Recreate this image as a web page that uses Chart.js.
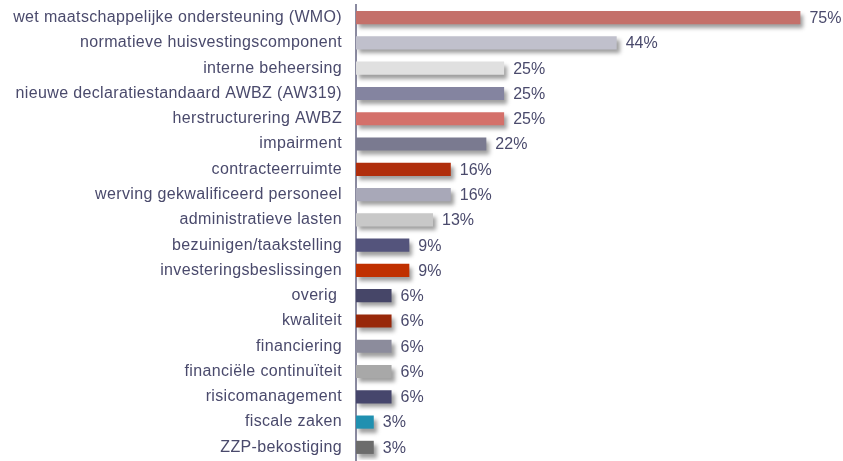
<!DOCTYPE html>
<html><head><meta charset="utf-8">
<script src="https://cdn.jsdelivr.net/npm/chart.js@4/dist/chart.umd.min.js"></script>
<style>html,body{margin:0;padding:0;background:#fff}#wrap{width:843px;height:461px}</style>
</head><body><div id="wrap"><canvas id="c" width="843" height="461"></canvas></div>
<script>
const categories = ["wet maatschappelijke ondersteuning (WMO)","normatieve huisvestingscomponent","interne beheersing","nieuwe declaratiestandaard AWBZ (AW319)","herstructurering AWBZ","impairment","contracteerruimte","werving gekwalificeerd personeel","administratieve lasten","bezuinigen/taakstelling","investeringsbeslissingen","overig ","kwaliteit","financiering","financiële continuïteit","risicomanagement","fiscale zaken","ZZP-bekostiging"];
const values = [75,44,25,25,25,22,16,16,13,9,9,6,6,6,6,6,3,3];
const valueLabels = ["75%","44%","25%","25%","25%","22%","16%","16%","13%","9%","9%","6%","6%","6%","6%","6%","3%","3%"];
const barColors = ["#c4706a","#c0c0cc","#e0e0e0","#8484a0","#d4706a","#7a7a90","#b02e0c","#a8a8b8","#c8c8c8","#54547c","#c03000","#464668","#98280a","#8c8c9c","#a8a8a8","#46466c","#2090b0","#6c6c6c"];
const textColor = "#4a4a6c";

const spacingPlugin = {
  id:'spacing',
  beforeInit(chart){chart.ctx.letterSpacing='0.35px';},
  beforeDraw(chart){chart.ctx.letterSpacing='0.35px';}
};
const shadowPlugin = {
  id:'shadow',
  beforeDatasetsDraw(chart){const c=chart.ctx;c.save();c.shadowColor='rgba(0,0,0,0.38)';c.shadowBlur=4;c.shadowOffsetX=3;c.shadowOffsetY=4;},
  afterDatasetsDraw(chart){chart.ctx.restore();}
};
const labelPlugin = {
  id:'vlabels',
  afterDatasetsDraw(chart){
    const c=chart.ctx;const meta=chart.getDatasetMeta(0);
    c.save();c.letterSpacing='0px';c.fillStyle=textColor;c.font='16px "Liberation Sans", Arial, sans-serif';c.textBaseline='middle';c.textAlign='left';
    meta.data.forEach((b,i)=>{c.fillText(valueLabels[i], b.x+9, b.y+1);});
    c.restore();
  }
};
new Chart(document.getElementById('c'),{
  type:'bar',
  data:{labels:categories,datasets:[{data:values,backgroundColor:barColors,borderWidth:0,barPercentage:0.52,categoryPercentage:1}]},
  options:{
    indexAxis:'y',responsive:false,animation:false,
    layout:{padding:{top:5,bottom:1,right:13,left:0}},
    plugins:{legend:{display:false},tooltip:{enabled:false}},
    scales:{
      x:{display:false,min:0,max:80},
      y:{
        afterFit(s){s.width=356;s.paddingTop=0;s.paddingBottom=0;},
        grid:{display:false,drawTicks:false},
        border:{display:true,color:'#8a8aa0',width:2},
        ticks:{color:textColor,padding:14,font:{family:'"Liberation Sans", Arial, sans-serif',size:16}}
      }
    }
  },
  plugins:[spacingPlugin,shadowPlugin,labelPlugin]
});
</script></body></html>
